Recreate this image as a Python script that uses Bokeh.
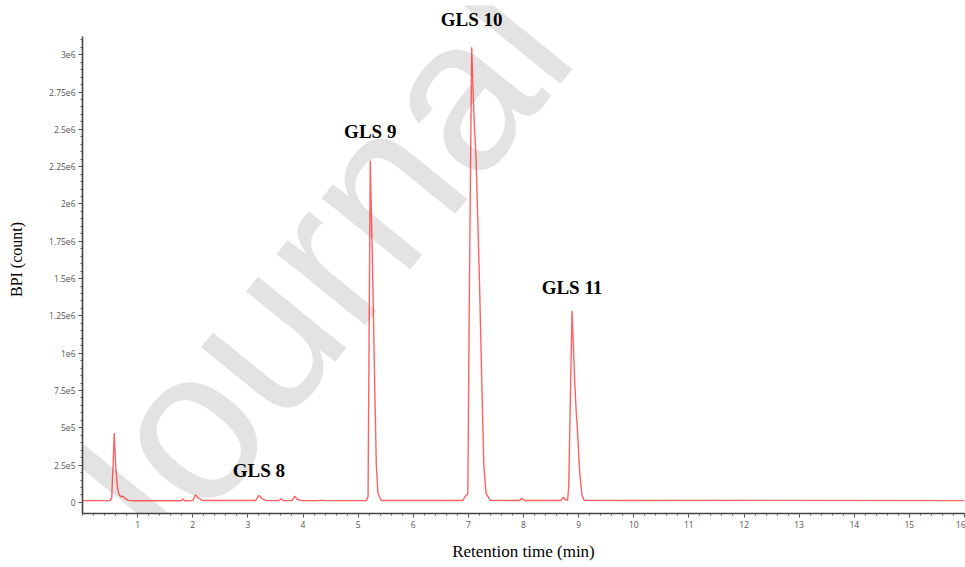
import numpy as np
from bokeh.plotting import figure
from bokeh.models import (ColumnDataSource, FixedTicker, Range1d, LabelSet, Label)
from bokeh.embed import file_html
from bokeh.resources import INLINE

# ---- data ----
retention_time = [0.0, 0.50, 0.53, 0.555, 0.575, 0.60, 0.63, 0.66, 0.70, 0.74, 0.78, 0.83, 0.95,
                  1.78, 1.82, 1.86, 2.00, 2.05, 2.10, 2.18,
                  3.14, 3.20, 3.26, 3.34, 3.56, 3.60, 3.65, 3.80, 3.85, 3.90, 3.98, 4.28, 4.32, 4.36,
                  5.15, 5.18, 5.22, 5.26, 5.30, 5.33, 5.36, 5.42,
                  6.90, 6.94, 6.97, 6.99, 7.02, 7.06, 7.10, 7.14, 7.20, 7.25, 7.28, 7.32, 7.40,
                  7.93, 7.97, 8.02, 8.68, 8.72, 8.76, 8.80, 8.82, 8.88, 8.93, 8.96, 8.97, 9.02, 9.06, 9.10,
                  9.9, 12.4, 16.0]
bpi_count = [12000, 12000, 30000, 250000, 466000, 260000, 110000, 55000, 38000, 40000, 25000, 14000, 11000,
             11000, 22000, 11000, 13000, 52000, 30000, 13000,
             13000, 48000, 24000, 12000, 12000, 25000, 12000, 12000, 42000, 20000, 12000, 12000, 16000, 12000,
             12000, 40000, 2290000, 1600000, 800000, 250000, 60000, 13000,
             13000, 40000, 50000, 60000, 1500000, 3050000, 2600000, 2300000, 1500000, 700000, 250000, 60000, 14000,
             13000, 28000, 13000, 13000, 35000, 18000, 15000, 100000, 1284000, 800000, 580000, 540000, 200000, 50000, 14000,
             13000, 14000, 12000]

peak_names = ["GLS 8", "GLS 9", "GLS 10", "GLS 11"]
peak_rt = [3.20, 5.22, 7.06, 8.88]
peak_bpi = [48000, 2290000, 3050000, 1284000]

x_ticks = list(range(1, 17))
y_ticks = [0, 250000, 500000, 750000, 1000000, 1250000, 1500000, 1750000,
           2000000, 2250000, 2500000, 2750000, 3000000]
y_tick_labels = ["0", "2.5e5", "5e5", "7.5e5", "1e6", "1.25e6", "1.5e6", "1.75e6",
                 "2e6", "2.25e6", "2.5e6", "2.75e6", "3e6"]
y_axis_top = 3120000

# ---- figure ----
p = figure(width=965, height=567, output_backend="svg", toolbar_location=None,
           x_range=Range1d(0, 16), y_range=Range1d(-74000, 3330000),
           min_border_left=82, min_border_top=5, min_border_bottom=54, min_border_right=1)
p.outline_line_color = None
p.grid.visible = False
p.background_fill_color = "white"
p.border_fill_color = "white"

# watermark
wm = Label(x=-0.05, y=-380000, text="Journal Pre-proof", angle=51, angle_units="deg",
           text_font="Liberation Sans", text_font_size="215px",
           text_color="#e3e3e3", text_baseline="alphabetic", level="underlay")
p.add_layout(wm)

src = ColumnDataSource(dict(rt=retention_time, bpi=bpi_count))
p.line("rt", "bpi", source=src, line_color="#ff2020", line_alpha=0.7, line_width=1.4)

lab_src = ColumnDataSource(dict(x=peak_rt, y=peak_bpi, name=peak_names, off=[14, 19, 17, 13]))
labels = LabelSet(x="x", y="y", text="name", y_offset="off", source=lab_src,
                  text_align="center", text_baseline="bottom",
                  text_font="Liberation Serif", text_font_style="bold",
                  text_font_size="19px", text_color="black")
p.add_layout(labels)

# axes
xminor = [round(v, 2) for v in np.arange(0, 16.001, 0.2)]
yminor = list(range(0, 3100001, 50000))
p.xaxis.ticker = FixedTicker(ticks=x_ticks, minor_ticks=xminor)
p.yaxis.ticker = FixedTicker(ticks=y_ticks, minor_ticks=yminor)
p.yaxis.major_label_overrides = {t: l for t, l in zip(y_ticks, y_tick_labels)}
p.yaxis.bounds = (-74000, y_axis_top)

for ax in (p.xaxis, p.yaxis):
    ax.axis_line_color = "#444444"
    ax.axis_line_width = 1.6
    ax.major_tick_line_color = "#555555"
    ax.minor_tick_line_color = "#555555"
    ax.major_tick_in = 0
    ax.major_tick_out = 4
    ax.minor_tick_in = 0
    ax.minor_tick_out = 2
    ax.major_label_text_font = "Open Sans"
    ax.major_label_text_font_size = "8.5px"
    ax.major_label_text_color = "#555555"
    ax.axis_label_text_font = "Liberation Serif"
    ax.axis_label_text_font_style = "normal"
    ax.axis_label_text_color = "black"

p.xaxis.axis_label = "Retention time (min)"
p.xaxis.axis_label_text_font_size = "17px"
p.xaxis.major_label_standoff = 3
p.xaxis.axis_label_standoff = 11
p.yaxis.axis_label = "BPI (count)"
p.yaxis.axis_label_text_font_size = "16px"
p.yaxis.major_label_standoff = 3
p.yaxis.axis_label_standoff = 21

open("out.html", "w").write(file_html(p, INLINE))
